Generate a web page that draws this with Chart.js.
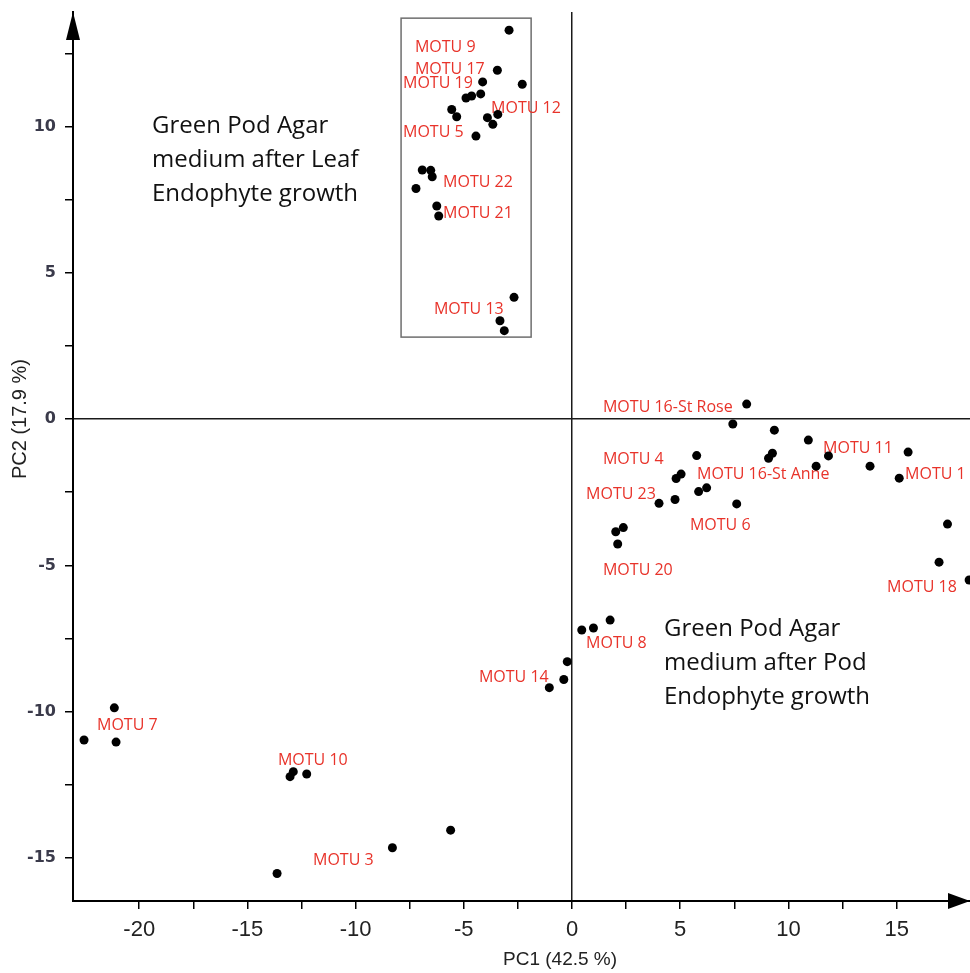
<!DOCTYPE html>
<html>
<head>
<meta charset="utf-8">
<title>PCA of MOTU isolates</title>
<script src="https://cdn.jsdelivr.net/npm/chart.js@4.4.0/dist/chart.umd.min.js"></script>
<style>
  html, body { margin: 0; padding: 0; background: #fff; }
  #wrap { width: 970px; height: 973px; }
</style>
</head>
<body>
<div id="wrap"><canvas id="pca"></canvas></div>
<script>
// PC scores of every isolate
const pc1Scores = [
  -2.91, -3.45, -4.13, -2.30, -4.64, -4.90, -4.22, -5.56, -5.33, -3.91, -3.43,
  -3.66, -4.44, -6.92, -6.53, -6.46, -7.21, -6.25, -6.16, -2.68, -3.33, -3.13,
  8.07, 7.43, 9.35, 10.92, 15.53, 5.76, 9.26, 9.08, 11.85, 11.28, 13.77, 15.12,
  5.04, 4.81, 6.22, 5.85, 4.76, 4.02, 7.61, 2.37, 2.02, 2.11, 17.35, 16.96, 18.35,
  1.76, 0.99, 0.45, -0.22, -0.38, -1.05,
  -21.15, -22.55, -21.07, -12.88, -13.03, -12.26, -5.61, -8.30, -13.63
];
const pc2Scores = [
  13.29, 11.92, 11.52, 11.44, 11.04, 10.97, 11.11, 10.58, 10.33, 10.30, 10.41,
  10.07, 9.67, 8.51, 8.50, 8.28, 7.88, 7.28, 6.94, 4.16, 3.36, 3.02,
  0.51, -0.17, -0.38, -0.72, -1.13, -1.25, -1.17, -1.34, -1.26, -1.61, -1.61, -2.02,
  -1.88, -2.03, -2.35, -2.48, -2.75, -2.88, -2.90, -3.71, -3.85, -4.27, -3.59, -4.89, -5.50,
  -6.87, -7.14, -7.21, -8.29, -8.90, -9.18,
  -9.87, -10.97, -11.04, -12.05, -12.22, -12.13, -14.05, -14.65, -15.53
];

// MOTU names and where their text starts (data units)
const labelNames = [
  "MOTU 9", "MOTU 17", "MOTU 19", "MOTU 12", "MOTU 5", "MOTU 22", "MOTU 21", "MOTU 13",
  "MOTU 16-St Rose", "MOTU 4", "MOTU 16-St Anne", "MOTU 11", "MOTU 1", "MOTU 23",
  "MOTU 6", "MOTU 20", "MOTU 18", "MOTU 8", "MOTU 14", "MOTU 7", "MOTU 10", "MOTU 3"
];
const labelPC1 = [
  -7.26, -7.26, -7.81, -3.74, -7.81, -5.96, -5.96, -6.38,
  1.43, 1.43, 5.78, 11.60, 15.39, 0.65,
  5.45, 1.43, 14.56, 0.65, -4.30, -21.95, -13.59, -11.97
];
const labelPC2 = [
  12.71, 11.96, 11.48, 10.63, 9.81, 8.10, 7.01, 3.73,
  0.41, -1.37, -1.91, -0.99, -1.91, -2.56,
  -3.62, -5.16, -5.74, -7.66, -8.82, -10.46, -11.65, -15.07
];

// box round the leaf endophyte group
const boxPC1 = [-7.90, -1.89];
const boxPC2 = [2.80, 13.70];

// the two notes
const leafNote = ["Green Pod Agar", "medium after Leaf", "Endophyte growth"];
const podNote = ["Green Pod Agar", "medium after Pod", "Endophyte growth"];
const notePC1 = [-19.41, 4.25];
const notePC2 = [10.01, -7.18];

// axes
const pc1Range = [-23.06, 18.39];
const pc2Range = [-16.47, 13.91];
const tickStep = 2.5;
const labelStep = 5;
const pc1Title = "PC1 (42.5 %)";
const pc2Title = "PC2 (17.9 %)";

const points = [];
for (let i = 0; i < pc1Scores.length; i++) {
  points.push({ x: pc1Scores[i], y: pc2Scores[i] });
}

// keep only ticks on the 2.5 grid (drop the min/max that chart.js adds)
function keepGridTicks(scale) {
  scale.ticks = scale.ticks.filter(t => {
    const k = t.value / tickStep;
    return Math.abs(k - Math.round(k)) < 1e-6;
  });
}
function fiveOnly(value) {
  const k = value / labelStep;
  return Math.abs(k - Math.round(k)) < 1e-6 ? Math.round(value) : "";
}
function zeroLine(ctx) {
  return ctx.tick && ctx.tick.value === 0 ? "#1a1a1a" : "rgba(0,0,0,0)";
}

const overlay = {
  id: "overlay",
  beforeDatasetsDraw(chart) {
    const { ctx } = chart;
    const x = chart.scales.x;
    const y = chart.scales.y;
    ctx.save();

    // box
    const bx0 = x.getPixelForValue(boxPC1[0]);
    const bx1 = x.getPixelForValue(boxPC1[1]);
    const by0 = y.getPixelForValue(boxPC2[1]);
    const by1 = y.getPixelForValue(boxPC2[0]);
    ctx.strokeStyle = "#6e6e6e";
    ctx.lineWidth = 1.5;
    ctx.strokeRect(bx0, by0, bx1 - bx0, by1 - by0);

    // MOTU labels
    ctx.fillStyle = "#e8332a";
    ctx.font = '16px "Open Sans"';
    ctx.textAlign = "left";
    ctx.textBaseline = "middle";
    for (let i = 0; i < labelNames.length; i++) {
      ctx.fillText(labelNames[i], x.getPixelForValue(labelPC1[i]), y.getPixelForValue(labelPC2[i]));
    }

    // notes
    ctx.fillStyle = "#111";
    ctx.font = '24px "Open Sans"';
    [leafNote, podNote].forEach((lines, n) => {
      const nx = x.getPixelForValue(notePC1[n]);
      const ny = y.getPixelForValue(notePC2[n]);
      lines.forEach((line, j) => ctx.fillText(line, nx, ny + j * 34));
    });
    ctx.restore();
  },
  afterDraw(chart) {
    const { ctx, chartArea } = chart;
    const x = chart.scales.x;
    ctx.save();
    ctx.fillStyle = "#000";
    // arrow heads
    ctx.beginPath();
    ctx.moveTo(chartArea.left, chartArea.top);
    ctx.lineTo(chartArea.left - 7, chartArea.top + 28);
    ctx.lineTo(chartArea.left + 7, chartArea.top + 28);
    ctx.closePath();
    ctx.fill();
    ctx.beginPath();
    ctx.moveTo(chartArea.right, chartArea.bottom);
    ctx.lineTo(chartArea.right - 22, chartArea.bottom - 8);
    ctx.lineTo(chartArea.right - 22, chartArea.bottom + 8);
    ctx.closePath();
    ctx.fill();

    // axis titles
    ctx.fillStyle = "#222";
    ctx.font = '19px "Liberation Sans", Arial, sans-serif';
    ctx.textAlign = "center";
    ctx.textBaseline = "middle";
    ctx.fillText(pc1Title, x.getPixelForValue(0) - 12, 960);
    ctx.translate(20, chart.scales.y.getPixelForValue(0));
    ctx.rotate(-Math.PI / 2);
    ctx.font = '20px "Liberation Sans", Arial, sans-serif';
    ctx.fillText(pc2Title, 0, 0);
    ctx.restore();
  }
};

new Chart(document.getElementById("pca"), {
  type: "scatter",
  data: {
    datasets: [
      {
        label: "isolates",
        data: points,
        pointRadius: 4.5,
        pointHoverRadius: 4.5,
        backgroundColor: "#000",
        borderWidth: 0,
        clip: false,
      },
    ],
  },
  options: {
    responsive: true,
    maintainAspectRatio: false,
    animation: false,
    layout: { autoPadding: false, padding: { top: 12, right: 0, left: 0, bottom: 0 } },
    plugins: {
      legend: { display: false },
      tooltip: { enabled: false },
    },
    scales: {
      x: {
        type: "linear",
        min: pc1Range[0],
        max: pc1Range[1],
        afterBuildTicks: keepGridTicks,
        afterFit(scale) {
          scale.height = 72;
          scale.paddingLeft = 0;
          scale.paddingRight = 0;
        },
        ticks: {
          stepSize: tickStep,
          autoSkip: false,
          maxRotation: 0,
          padding: 8,
          color: "#222",
          font: { family: '"Liberation Sans", Arial, sans-serif', size: 22 },
          callback: fiveOnly,
        },
        grid: {
          color: zeroLine,
          lineWidth: 1.5,
          tickLength: 8,
          tickColor: "#000",
          tickWidth: 1.5,
        },
        border: { color: "#000", width: 2 },
      },
      y: {
        type: "linear",
        min: pc2Range[0],
        max: pc2Range[1],
        afterBuildTicks: keepGridTicks,
        afterFit(scale) {
          scale.width = 73;
          scale.paddingTop = 0;
          scale.paddingBottom = 0;
        },
        ticks: {
          stepSize: tickStep,
          autoSkip: false,
          padding: 9,
          color: "#3a3a4a",
          font: { family: '"DejaVu Sans"', size: 16, weight: "bold" },
          callback: fiveOnly,
        },
        grid: {
          color: zeroLine,
          lineWidth: 1.5,
          tickLength: 8,
          tickColor: "#000",
          tickWidth: 1.5,
        },
        border: { color: "#000", width: 2 },
      },
    },
  },
  plugins: [overlay],
});
</script>
</body>
</html>
